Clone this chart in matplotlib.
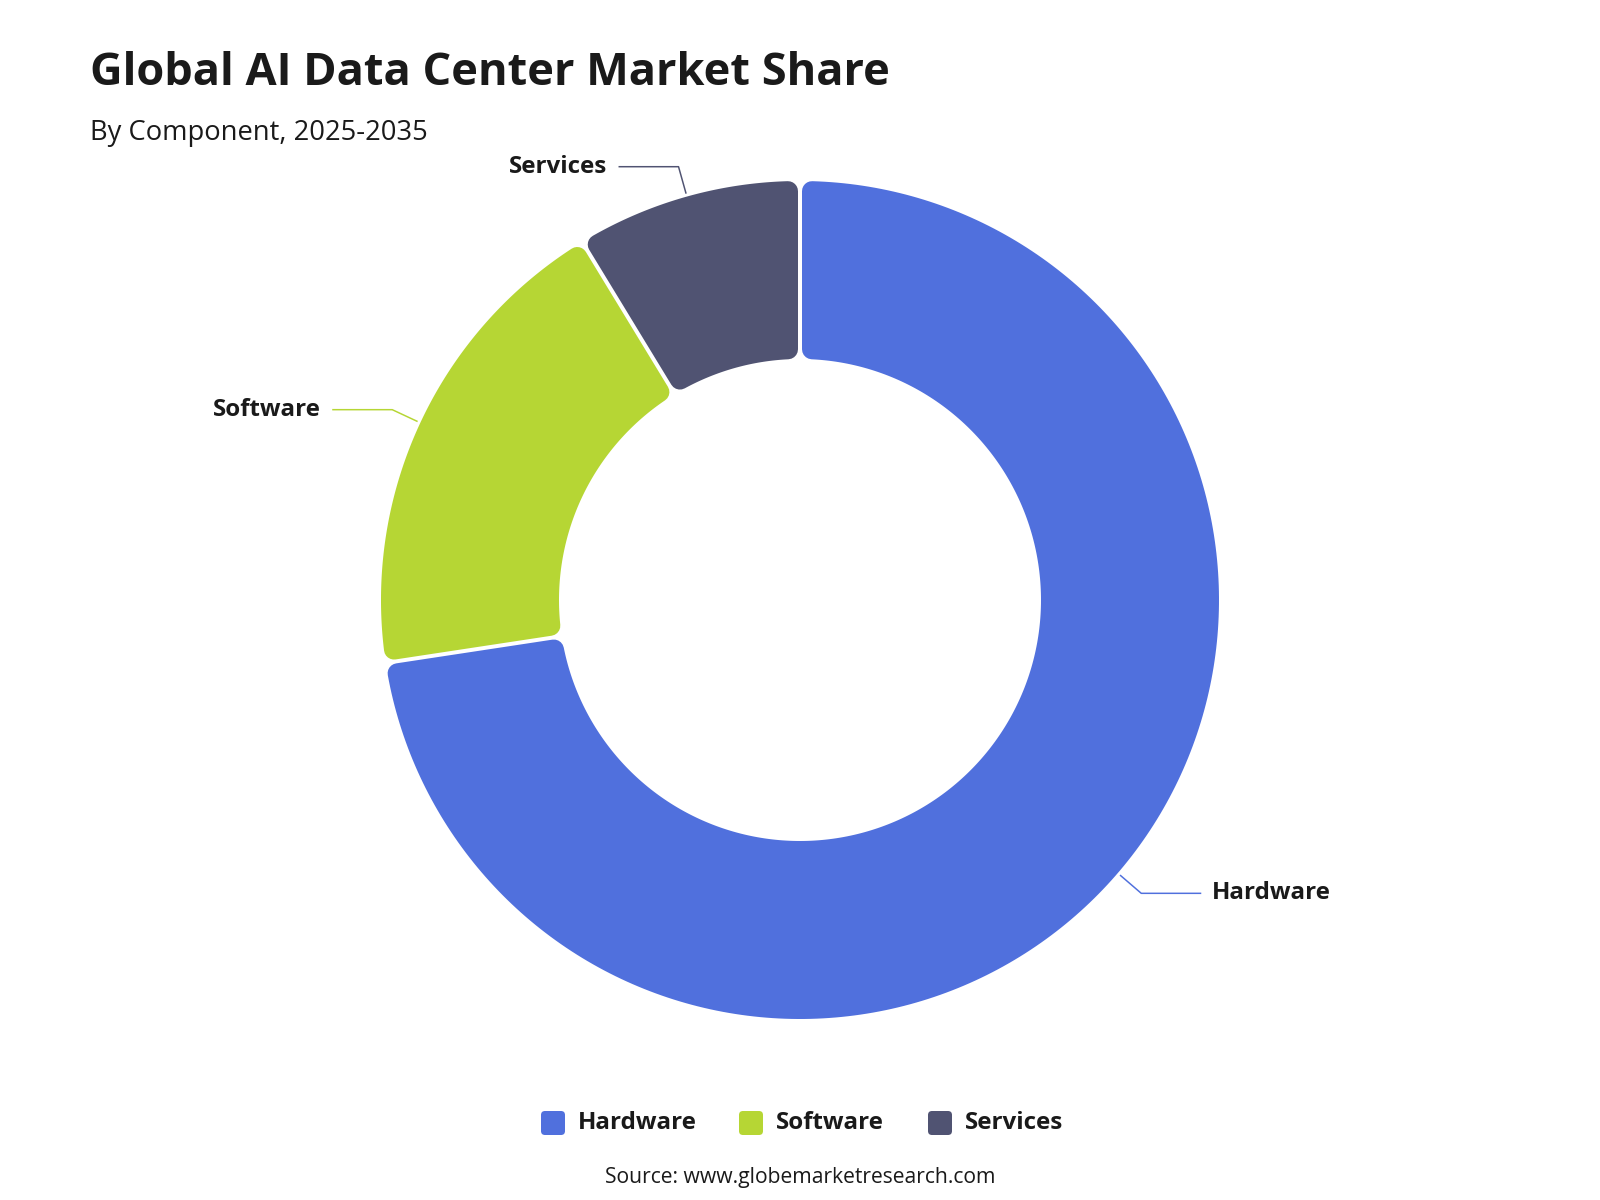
import numpy as np
import matplotlib
matplotlib.use("Agg")
import matplotlib.pyplot as plt
from matplotlib.patches import Polygon, FancyBboxPatch

# ---------------- data ----------------
categories = ["Hardware", "Software", "Services"]
shares = [72.6, 18.7, 8.7]
colors = ["#5070dd", "#b6d634", "#505372"]
title_text = "Global AI Data Center Market Share"
subtitle_text = "By Component, 2025-2035"
source_text = "Source: www.globemarketresearch.com"

# ---------------- layout ----------------
W, H = 1600, 1200
FONT = ["Open Sans", "DejaVu Sans"]
TXT = "#1a1a1a"
fig = plt.figure(figsize=(16, 12), dpi=100)
ax = fig.add_axes([0, 0, 1, 1])
ax.set_xlim(0, W)
ax.set_ylim(H, 0)
ax.axis("off")

CX, CY = 800, 600
R_OUT, R_IN = 420, 240
CORNER = 10
HALF_GAP = 2
BORDER = 1
PX2PT = 72 / 100
LABEL_FS = 17.4


def pt(theta, rho):
    return CX + rho * np.sin(theta), CY - rho * np.cos(theta)


def rounded_slice(t1, t2, color):
    ro = R_OUT - BORDER - CORNER
    ri = R_IN + BORDER + CORNER
    off = HALF_GAP + CORNER
    do = np.arcsin(off / ro)
    di = np.arcsin(off / ri)
    a = np.linspace(t1 + do, t2 - do, 300)
    b = np.linspace(t2 - di, t1 + di, 300)
    xs = np.concatenate([CX + ro * np.sin(a), CX + ri * np.sin(b)])
    ys = np.concatenate([CY - ro * np.cos(a), CY - ri * np.cos(b)])
    poly = Polygon(np.column_stack([xs, ys]), closed=True, facecolor=color,
                   edgecolor=color, linewidth=2 * CORNER * PX2PT,
                   joinstyle="round", antialiased=True)
    ax.add_patch(poly)


total = sum(shares)
start = 0.0
for cat, val, col in zip(categories, shares, colors):
    t1 = start
    t2 = start + val / total * 2 * np.pi
    rounded_slice(t1, t2, col)
    mid = (t1 + t2) / 2
    x0, y0 = pt(mid, R_OUT + 2)
    x1, y1 = pt(mid, R_OUT + 30)
    d = 1 if np.sin(mid) > 0 else -1
    x2 = x1 + d * 60
    ax.plot([x0, x1, x2], [y0, y1, y1], color=col, lw=1.5 * PX2PT,
            solid_capstyle="butt")
    ax.text(x2 + d * 11, y1, cat, ha="left" if d > 0 else "right",
            va="center", fontsize=LABEL_FS, fontweight="bold", color=TXT,
            family=FONT)
    start = t2

# title / subtitle
ax.text(90, 85, title_text, ha="left", va="baseline", fontsize=32.5,
        fontweight="bold", color=TXT, family=FONT)
ax.text(90, 140, subtitle_text, ha="left", va="baseline", fontsize=19.7,
        color=TXT, family=FONT)

# legend
leg_marker_x = [541, 739, 928]
leg_text_x = [578, 776, 965]
LEG_Y = 1123
for cat, col, mx, tx in zip(categories, colors, leg_marker_x, leg_text_x):
    box = FancyBboxPatch((mx + 4, LEG_Y - 12 + 4), 24 - 8, 24 - 8,
                         boxstyle="round,pad=4", facecolor=col,
                         edgecolor="none")
    ax.add_patch(box)
    ax.text(tx, LEG_Y, cat, ha="left", va="center", fontsize=LABEL_FS,
            fontweight="bold", color=TXT, family=FONT)

ax.text(800, 1177, source_text, ha="center", va="center", fontsize=15.2,
        color=TXT, family=FONT)

fig.savefig("out.png", dpi=100, facecolor="white")
